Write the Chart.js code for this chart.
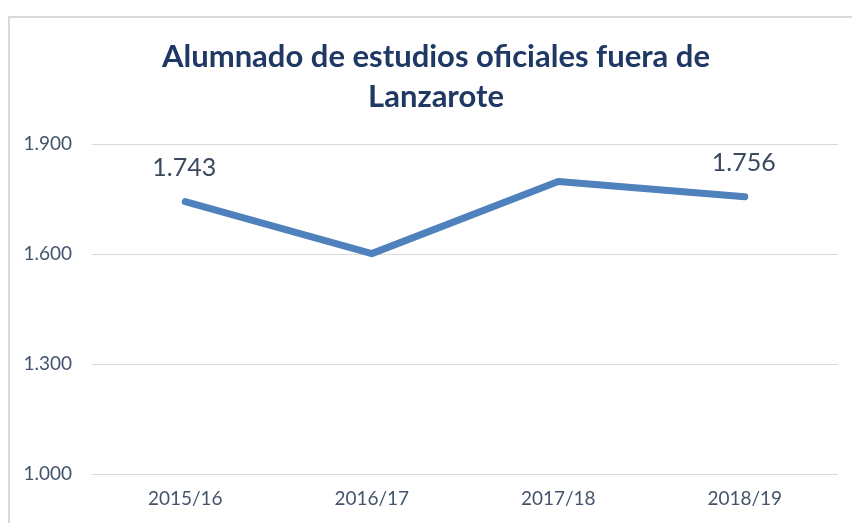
<!DOCTYPE html>
<html lang="es">
<head>
  <meta charset="UTF-8">
  <title>Alumnado de estudios oficiales fuera de Lanzarote</title>
  <script src="https://cdn.jsdelivr.net/npm/chart.js"></script>
  <style>
    html, body {
      margin: 0;
      padding: 0;
      background: #fff;
      overflow: hidden;
    }
    .frame {
      position: absolute;
      left: 8px;
      top: 16px;
      width: 852px;
      height: 505px;
      border-top: 2px solid #d9d9d9;
      border-left: 2px solid #d9d9d9;
    }
    canvas {
      display: block;
    }
  </style>
</head>
<body>

<div class="frame">
  <canvas id="chart" width="852" height="505"></canvas>
</div>

<script>
  // datos
  const cursos = ['2015/16', '2016/17', '2017/18', '2018/19'];
  const alumnos = [1743, 1601, 1798, 1756];
  const etiquetasVisibles = [0, 3]; // solo primer y ultimo punto llevan etiqueta
  const ejeY = { min: 1000, max: 1900, paso: 300 };
  const titulo = ['Alumnado de estudios oficiales fuera de', 'Lanzarote'];

  const azul = '#4f81bd';
  const textoGris = '#44546a';
  const tituloColor = '#1f3864';

  // 1743 -> "1.743"
  function formatoES(v) {
    return String(Math.round(v)).replace(/\B(?=(\d{3})+(?!\d))/g, '.');
  }

  // el titulo va centrado en todo el recuadro (no solo en el area del grafico)
  const tituloPlugin = {
    id: 'tituloCentrado',
    afterDraw(chart) {
      const ctx = chart.ctx;
      ctx.save();
      ctx.font = 'bold 31px Lato';
      ctx.fillStyle = tituloColor;
      ctx.textAlign = 'center';
      ctx.textBaseline = 'middle';
      titulo.forEach((linea, i) => {
        ctx.fillText(linea, chart.width / 2, 39 + i * 40);
      });
      ctx.restore();
    }
  };

  // etiquetas de datos encima de los puntos
  const etiquetasPlugin = {
    id: 'etiquetas',
    afterDatasetsDraw(chart) {
      const ctx = chart.ctx;
      const meta = chart.getDatasetMeta(0);
      ctx.save();
      ctx.font = '25px Lato';
      ctx.fillStyle = '#3b4a5f';
      ctx.textAlign = 'center';
      ctx.textBaseline = 'middle';
      etiquetasVisibles.forEach(i => {
        const p = meta.data[i];
        ctx.fillText(formatoES(alumnos[i]), p.x - 1, p.y - 34);
      });
      ctx.restore();
    }
  };

  new Chart(document.getElementById('chart'), {
    type: 'line',
    data: {
      labels: cursos,
      datasets: [{
        data: alumnos,
        borderColor: azul,
        borderWidth: 7,
        borderCapStyle: 'round',
        borderJoinStyle: 'round',
        pointRadius: 0,
        tension: 0,
        fill: false
      }]
    },
    options: {
      responsive: false,
      animation: false,
      devicePixelRatio: 1,
      layout: {
        padding: { left: 0, right: 24, top: 126, bottom: 0 }
      },
      plugins: {
        legend: { display: false },
        tooltip: { enabled: false },
        title: { display: false }
      },
      scales: {
        x: {
          offset: true,
          grid: { display: false, drawTicks: false },
          border: { display: false },
          ticks: {
            color: textoGris,
            font: { family: 'Lato', size: 19 },
            padding: 13,
            maxRotation: 0
          },
          afterFit(scale) { scale.height = 49; }
        },
        y: {
          min: ejeY.min,
          max: ejeY.max,
          grid: { color: '#d9d9d9', lineWidth: 1, drawTicks: false },
          border: { display: false },
          ticks: {
            stepSize: ejeY.paso,
            color: textoGris,
            font: { family: 'Lato', size: 19 },
            padding: 20,
            callback: v => formatoES(v)
          },
          afterFit(scale) { scale.width = 82; }
        }
      }
    },
    plugins: [etiquetasPlugin, tituloPlugin]
  });
</script>

</body>
</html>
